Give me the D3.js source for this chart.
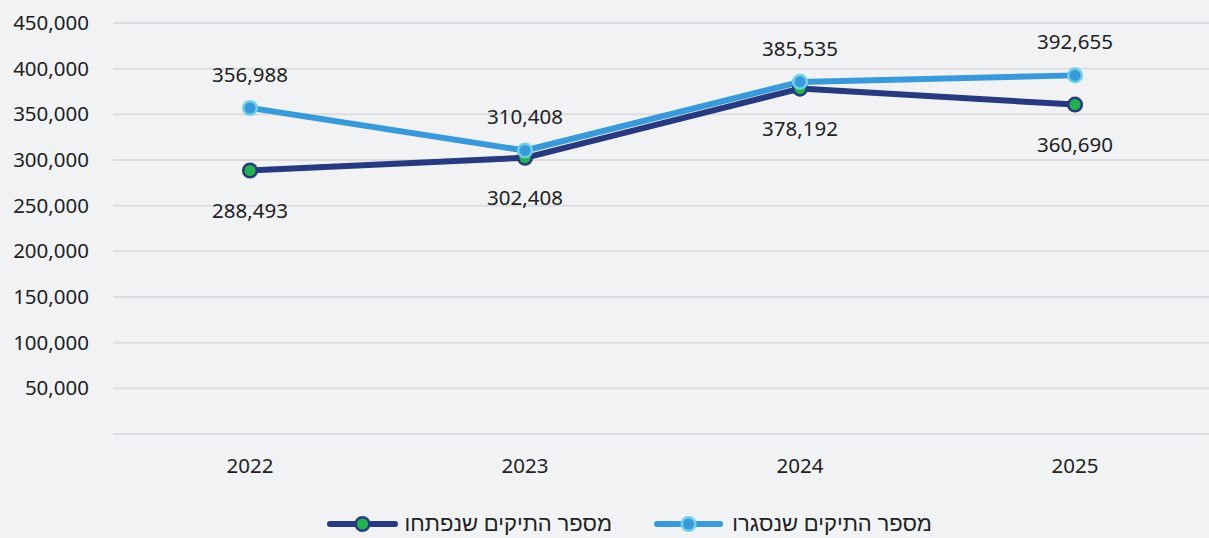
<!DOCTYPE html>
<html><head><meta charset="utf-8">
<script src="https://cdn.jsdelivr.net/npm/d3@7"></script>
<style>
html,body{margin:0;padding:0;background:#f1f2f4;}
svg{display:block;font-family:"Noto Sans",sans-serif;}
</style></head>
<body>
<svg id="c" width="1209" height="538"></svg>
<script>
const years = ["2022","2023","2024","2025"];
const opened = [288493, 302408, 378192, 360690];
const closed = [356988, 310408, 385535, 392655];
const yTicks = [50000,100000,150000,200000,250000,300000,350000,400000,450000];
const seriesNames = ["מספר התיקים שנסגרו","מספר התיקים שנפתחו"];

const svg = d3.select("#c");
const W = 1209, H = 538;
svg.append("rect").attr("width",W).attr("height",H).attr("fill","#f1f2f4");

const x = d3.scaleBand().domain(years).range([112.5, 1212.5]);
const y = d3.scaleLinear().domain([0,450000]).range([434, 23]);
const fmt = d3.format(",");
const FS = 20.5;

// grid
const grid = svg.append("g");
grid.selectAll("line").data([0].concat(yTicks)).join("line")
  .attr("x1",113).attr("x2",W).attr("y1",d=>y(d)).attr("y2",d=>y(d))
  .attr("stroke","#dcdde0").attr("stroke-width",2);

// y axis
const ya = svg.append("g").attr("transform","translate(89,0)")
  .call(d3.axisLeft(y).tickValues(yTicks).tickFormat(fmt).tickSize(0).tickPadding(0));
ya.select(".domain").remove();
ya.selectAll("text").attr("font-size",FS).attr("fill","#222").attr("font-family","Noto Sans");

// x axis
const xa = svg.append("g").attr("transform","translate(0,467)")
  .call(d3.axisBottom(x).tickSize(0).tickPadding(0));
xa.select(".domain").remove();
xa.selectAll("text").attr("font-size",FS).attr("fill","#222").attr("font-family","Noto Sans").attr("dy","0.3em");

const cx = d => x(d) + x.bandwidth()/2;
const line = d3.line().x((d,i)=>cx(years[i])).y(d=>y(d));

const series = [
  {vals: opened, color:"#273a80", fill:"#22b14c", stroke:"#273a80", dy: 39},
  {vals: closed, color:"#3a9ad9", fill:"#3a9ad9", stroke:"#6fd0e8", dy: -34}
];
series.forEach(s=>{
  svg.append("path").datum(s.vals).attr("d",line).attr("fill","none")
    .attr("stroke",s.color).attr("stroke-width",6).attr("stroke-linejoin","round");
});
series.forEach(s=>{
  svg.append("g").selectAll("circle").data(s.vals).join("circle")
    .attr("cx",(d,i)=>cx(years[i])).attr("cy",d=>y(d)).attr("r",6.8)
    .attr("fill",s.fill).attr("stroke",s.stroke).attr("stroke-width",2.5);
  svg.append("g").selectAll("text").data(s.vals).join("text")
    .attr("x",(d,i)=>cx(years[i])).attr("y",d=>y(d)+s.dy)
    .attr("text-anchor","middle").attr("dominant-baseline","central")
    .attr("font-size",FS).attr("fill","#222").text(d=>fmt(d));
});

// legend
const LY = 522;
const leg = [
  {name: seriesNames[0], s: series[1], mx1:657, mx2:720, textEnd:932},
  {name: seriesNames[1], s: series[0], mx1:330, mx2:395, textEnd:612}
];
leg.forEach(l=>{
  const g = svg.append("g");
  g.append("line").attr("x1",l.mx1).attr("x2",l.mx2).attr("y1",LY+2).attr("y2",LY+2)
    .attr("stroke",l.s.color).attr("stroke-width",6).attr("stroke-linecap","round");
  g.append("circle").attr("cx",(l.mx1+l.mx2)/2).attr("cy",LY+2).attr("r",6.8)
    .attr("fill",l.s.fill).attr("stroke",l.s.stroke).attr("stroke-width",2.5);
  g.append("text").attr("x",l.textEnd).attr("y",LY).attr("dominant-baseline","central")
    .attr("text-anchor","end").attr("font-size",22).attr("fill","#222").text(l.name);
});
</script>
</body></html>
